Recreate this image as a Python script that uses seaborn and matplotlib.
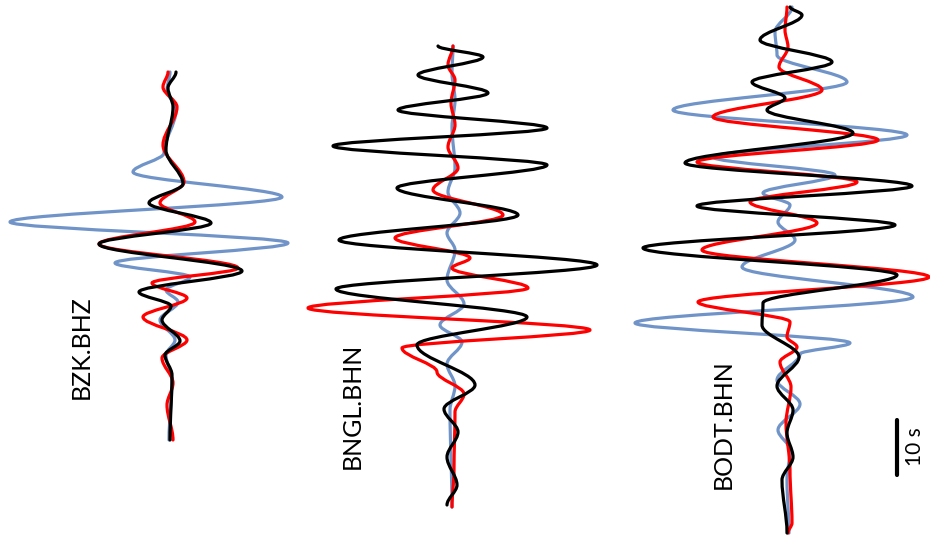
import matplotlib
matplotlib.use("Agg")
import matplotlib.pyplot as plt
from matplotlib.path import Path
from matplotlib.patches import PathPatch
import seaborn as sns
import numpy as np

SPS = 5.5  # samples per second of the plotted records

stations = ["BZK.BHZ", "BNGL.BHN", "BODT.BHN"]
station_offset = [171, 453, 788]
label_pos = [(81, 347), (352, 406), (723, 424)]

# turning points of every trace (sample index, amplitude)
# BZK.BHZ
bzk_blue_t = [72, 90, 110, 153, 172, 197, 222, 243, 263, 277, 290, 302, 320, 340, 355, 380, 440]
bzk_blue_a = [-1, -4, 5, -7, -38, 111, -161, 117, -56, 19, -5, 7, -11, 4, -5, 1, -2]
bzk_red_t = [72, 87, 107, 145, 182, 203, 222, 244, 268, 283, 298, 317, 340, 358, 383, 405, 440]
bzk_red_a = [-3, -8, 6, -8, 13, -11, 24, -72, 67, -19, 16, -28, 16, -9, 2, -4, 2]
bzk_black_t = [72, 88, 107, 150, 184, 203, 223, 244, 271, 292, 306, 320, 341, 355, 375, 440]
bzk_black_a = [5, -3, 2, -5, 12, -22, 40, -72, 71, -32, 0, -9, 9, -6, 1, -1]

# BNGL.BHN
bngl_blue_t = [46, 73, 100, 127, 168, 192, 213, 233, 250, 280, 304, 325, 342, 364, 386, 410, 507]
bngl_blue_a = [0, -1, 2, -1, 2, -5, 7, -6, 2, -6, 11, -13, 9, -6, 2, -3, -1]
bngl_red_t = [46, 65, 80, 103, 125, 147, 168, 190, 215, 238, 258, 268, 288, 308, 330, 348, 372, 394, 412, 470, 507]
bngl_red_a = [0, -5, 2, -2, 2, -5, 5, -20, 50, -58, 17, -1, 75, -145, 137, -51, -16, 11, 2, 1, -1]
bngl_black_t = [46, 57, 75, 93, 110, 128, 146, 165, 188, 215, 240, 265, 289, 317, 345, 385, 409, 432, 457, 485, 505]
bngl_black_a = [-15, 30, -35, 35, -55, 94, -120, 94, -56, 65, -114, 144, -117, 74, -36, 22, -9, 5, -6, 4, -6]

# BODT.BHN
bodt_blue_t = [7, 32, 55, 82, 110, 135, 157, 175, 193, 205, 222, 240, 267, 297, 323, 343, 354, 380, 404, 430, 450, 480, 533]
bodt_blue_a = [4, -13, -11, 59, -115, 119, -75, 47, -25, 2, -10, 7, -46, 125, -153, 62, 12, -11, 12, -10, 2, -1, 1]
bodt_red_t = [7, 30, 47, 67, 90, 117, 140, 162, 182, 202, 223, 250, 277, 302, 322, 337, 347, 362, 387, 423, 470, 523, 533]
bodt_red_a = [-1, -3, 0, -9, 34, -75, 90, -91, 69, -38, 29, -86, 141, -90, 2, -1, 9, -8, 3, -2, 2, 4, 0]
bodt_black_t = [7, 15, 40, 62, 82, 98, 110, 133, 163, 186, 206, 225, 248, 275, 303, 325, 357, 386, 410, 433, 457, 480, 533]
bodt_black_a = [2, 14, -28, 44, -36, -3, -21, 65, -103, 124, -91, 107, -145, 109, -25, -26, 11, -11, 5, -1, 5, -6, -1]

traces = [
    [(bzk_blue_t, bzk_blue_a), (bzk_red_t, bzk_red_a), (bzk_black_t, bzk_black_a)],
    [(bngl_blue_t, bngl_blue_a), (bngl_red_t, bngl_red_a), (bngl_black_t, bngl_black_a)],
    [(bodt_blue_t, bodt_blue_a), (bodt_red_t, bodt_red_a), (bodt_black_t, bodt_black_a)],
]

colors = ["#7094c8", "#ff0000", "#000000"]

# scale bar
bar_x = 897
bar_t0 = 420
bar_len_s = 10


def trace_path(t, a, x0, k=0.34):
    # smooth curve through turning points (vertical tangent at each one)
    x = np.asarray(a, float) + x0
    y = np.asarray(t, float)
    verts = [(x[0], y[0])]
    codes = [Path.MOVETO]
    for i in range(len(x) - 1):
        d = y[i + 1] - y[i]
        verts += [(x[i], y[i] + k * d), (x[i + 1], y[i + 1] - k * d), (x[i + 1], y[i + 1])]
        codes += [Path.CURVE4] * 3
    return Path(verts, codes)


sns.set_theme(style="white")
plt.rcParams['font.family'] = ['Lato', 'DejaVu Sans']

fig = plt.figure(figsize=(9.3, 5.5), dpi=100)
ax = fig.add_axes([0, 0, 1, 1])

for s, name in enumerate(stations):
    for (t, a), c in zip(traces[s], colors):
        ax.add_patch(PathPatch(trace_path(t, a, station_offset[s]), fill=False,
                               edgecolor=c, lw=2.3, capstyle='round', joinstyle='round'))
    lx, ly = label_pos[s]
    ax.text(lx, ly, name, rotation=90, ha='center', va='center', fontsize=18, color='black')

sns.lineplot(x=[bar_x, bar_x], y=[bar_t0, bar_t0 + bar_len_s * SPS], estimator=None,
             sort=False, color='black', lw=3, ax=ax)
ax.text(915, 447, "10 s", rotation=90, ha='center', va='center', fontsize=15, color='black')

ax.set_xlim(0, 930)
ax.set_ylim(550, 0)
ax.axis('off')

fig.savefig("out.png", dpi=100, facecolor='white')
